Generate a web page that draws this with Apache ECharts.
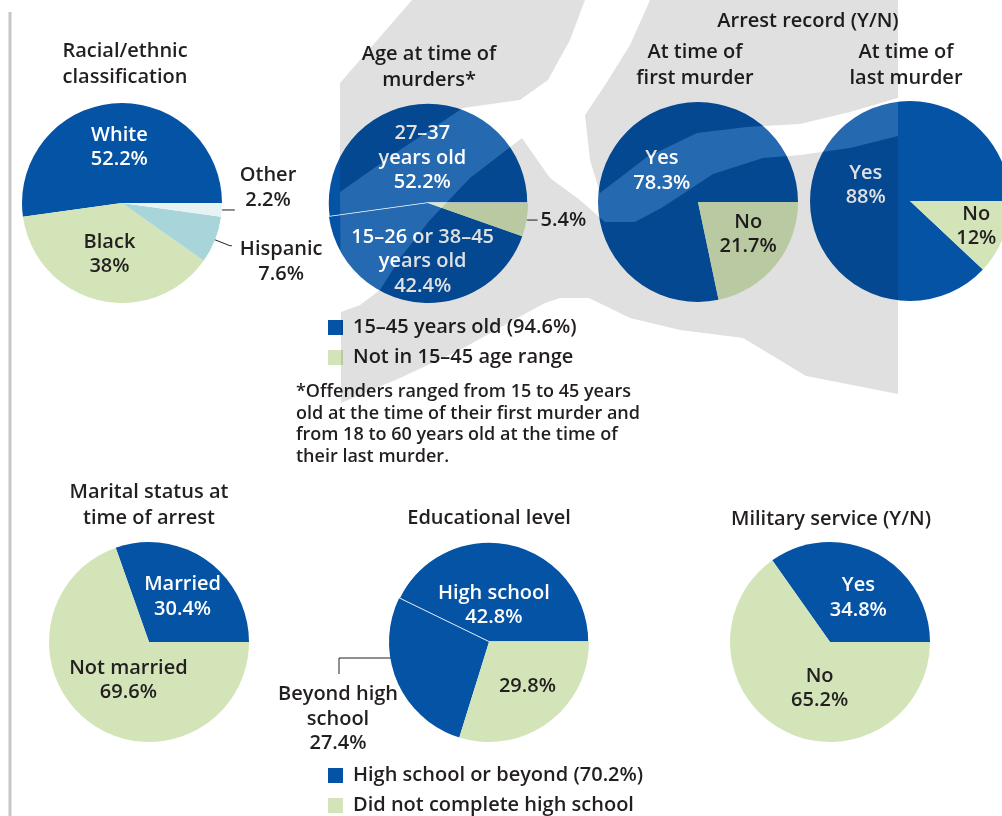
<!DOCTYPE html>
<html>
<head>
<meta charset="utf-8">
<title>Offender profile</title>
<script src="https://cdn.jsdelivr.net/npm/echarts@6/dist/echarts.min.js"></script>
<style>
  html, body { margin: 0; padding: 0; background: #fff; }
  #chart { width: 1002px; height: 816px; }
</style>
</head>
<body>
<div id="chart"></div>
<script>
// values, in percent
const raceNames = ['White', 'Black', 'Hispanic', 'Other'];
const raceValues = [52.2, 38, 7.6, 2.2];

const ageNames = ['27–37 years old', '15–26 or 38–45 years old', 'Not in 15–45 age range'];
const ageLabels = ['27–37\nyears old', '15–26 or 38–45\nyears old', ''];
const ageValues = [52.2, 42.4, 5.4];

const arrestNames = ['Yes', 'No'];
const firstArrestValues = [78.3, 21.7];
const lastArrestValues = [88, 12];

const maritalNames = ['Married', 'Not married'];
const maritalValues = [30.4, 69.6];

const eduNames = ['High school', 'Beyond high school', 'Did not complete high school'];
const eduLabels = ['High school', 'Beyond high\nschool', ''];
const eduValues = [42.8, 27.4, 29.8];

const militaryNames = ['Yes', 'No'];
const militaryValues = [34.8, 65.2];

const ageLegend = ['15–45 years old (94.6%)', 'Not in 15–45 age range'];
const eduLegend = ['High school or beyond (70.2%)', 'Did not complete high school'];

const footnote = '*Offenders ranged from 15 to 45 years\nold at the time of their first murder and\nfrom 18 to 60 years old at the time of\ntheir last murder.';

const BLUE = '#0553a5';
const GREEN = '#d3e5b8';
const HISP = '#a8d5da';
const OTHER = '#e7f3f2';
const INK = '#231f20';
const FONT = '"Open Sans", "Noto Sans", sans-serif';
const R = 100;

const chart = echarts.init(document.getElementById('chart'));

const rich = {
  lt: { color: '#fff', fontFamily: FONT, fontWeight: 600, fontSize: 20, lineHeight: 24.5, align: 'center' },
  dk: { color: INK, fontFamily: FONT, fontWeight: 600, fontSize: 20, lineHeight: 24.5, align: 'center' }
};

function labelText(words, value, tone) {
  const lines = (words ? words.split('\n') : []).concat([value + '%']);
  return lines.map(function (l) { return '{' + tone + '|' + l + '}'; }).join('\n');
}

// each pie: where it sits and how its labels are nudged
const pies = [
  { names: raceNames, words: raceNames, values: raceValues, colors: [BLUE, GREEN, HISP, OTHER],
    tones: ['lt', 'dk', 'dk', 'dk'], center: [122, 203],
    nudge: [[1, -3], [0, 0]],
    outside: { 2: { length: 16, length2: 2, dist: 8, padding: [32, 0, 0, 0] },
               3: { length: 1, length2: 12, dist: 5, padding: [0, 0, 44, 0] } } },
  { names: ageNames, words: ageLabels, values: ageValues, colors: [BLUE, BLUE, GREEN],
    tones: ['lt', 'lt', 'dk'], center: [428, 203], border: { 0: true },
    nudge: [[-2, 8], [0, 6]],
    outside: { 2: { length: 1, length2: 10, dist: 3, padding: 0 } } },
  { names: arrestNames, words: arrestNames, values: firstArrestValues, colors: [BLUE, GREEN],
    tones: ['lt', 'dk'], center: [698, 202], nudge: [[5, 2], [9, -1]] },
  { names: arrestNames, words: arrestNames, values: lastArrestValues, colors: [BLUE, GREEN],
    tones: ['lt', 'dk'], center: [910, 201], nudge: [[5, 4], [17, 6]] },
  { names: maritalNames, words: maritalNames, values: maritalValues, colors: [BLUE, GREEN],
    tones: ['lt', 'dk'], center: [149, 642], nudge: [[3, -2], [10, -5]] },
  { names: eduNames, words: eduLabels, values: eduValues, colors: [BLUE, BLUE, GREEN],
    tones: ['lt', 'dk', 'dk'], center: [489, 642], border: { 0: true },
    nudge: [[-7, 15], null, [7, 2]],
    outside: { 1: { length: 10, length2: 10, dist: 5, padding: 0 } },
    custom: { 1: function (c) {
      return {
        x: c[0] - 151, y: c[1] + 77, align: 'center', verticalAlign: 'middle',
        labelLinePoints: [[c[0] - 69, c[1] + 16], [c[0] - 150, c[1] + 16], [c[0] - 150, c[1] + 32]]
      };
    } } },
  { names: militaryNames, words: militaryNames, values: militaryValues, colors: [BLUE, GREEN],
    tones: ['lt', 'dk'], center: [830, 642], nudge: [[4, 3], [14, -1]] }
];

function pieSeries(cfg) {
  return {
    type: 'pie',
    center: cfg.center,
    radius: R,
    startAngle: 0,
    clockwise: false,
    avoidLabelOverlap: false,
    silent: true,
    label: { position: 'inside', rich: rich },
    labelLine: { show: false, lineStyle: { color: INK, width: 1 } },
    data: cfg.values.map(function (v, i) {
      const item = {
        name: cfg.names[i],
        value: v,
        itemStyle: { color: cfg.colors[i] },
        label: { formatter: labelText(cfg.words[i], v, cfg.tones[i]) }
      };
      if (cfg.border && cfg.border[i]) {
        item.itemStyle.borderColor = '#fff';
        item.itemStyle.borderWidth = 1.5;
      }
      const o = cfg.outside && cfg.outside[i];
      if (o) {
        item.label.position = 'outside';
        item.label.distanceToLabelLine = o.dist;
        item.label.padding = o.padding;
        item.labelLine = { show: true, length: o.length, length2: o.length2, lineStyle: { color: INK, width: 1 } };
      }
      return item;
    }),
    labelLayout: function (p) {
      if (cfg.custom && cfg.custom[p.dataIndex]) return cfg.custom[p.dataIndex](cfg.center);
      const n = cfg.nudge && cfg.nudge[p.dataIndex];
      if (!n) return {};
      const r = p.labelRect;
      return { x: r.x + r.width / 2 + n[0], y: r.y + r.height / 2 + n[1], align: 'center', verticalAlign: 'middle' };
    }
  };
}

const titleStyle = { fontFamily: FONT, fontWeight: 600, fontSize: 20, lineHeight: 25.5, color: INK };
const titles = [
  ['Racial/ethnic\nclassification', 125, 39],
  ['Age at time of\nmurders*', 429, 42],
  ['Arrest record (Y/N)', 808, 9],
  ['At time of\nfirst murder', 695, 40],
  ['At time of\nlast murder', 906, 40],
  ['Marital status at\ntime of arrest', 149, 480],
  ['Educational level', 489, 506],
  ['Military service (Y/N)', 831, 507]
].map(function (t) {
  return { text: t[0], left: t[1], top: t[2], textAlign: 'center', padding: 0, textStyle: titleStyle };
});

function legendBlock(items, colors, x, y0) {
  const els = [];
  items.forEach(function (txt, i) {
    const y = y0 + i * 30;
    els.push({ type: 'rect', shape: { x: x, y: y, width: 15, height: 15 }, style: { fill: colors[i] } });
    els.push({ type: 'text', x: x + 25, y: y + 7.5,
      style: { text: txt, fill: INK, fontFamily: FONT, fontWeight: 600, fontSize: 20, verticalAlign: 'middle', align: 'left' } });
  });
  return els;
}

// light watermark behind the middle of the page: gray pieces and a pale swoosh
const shadePieces = [
  [[340, 83], [412, 0], [585, 0], [570, 40], [548, 80], [520, 100], [463, 108], [400, 150], [340, 192]],
  [[650, 0], [630, 45], [605, 85], [585, 115], [590, 160], [600, 193], [647, 157], [697, 133], [747, 127],
   [800, 124], [850, 112], [898, 98], [898, 0]],
  [[341, 312], [360, 305], [380, 290], [400, 258], [430, 220], [470, 178], [522, 138], [550, 178], [580, 200],
   [605, 222], [635, 222], [663, 207], [713, 174], [763, 158], [800, 155], [850, 148], [898, 136],
   [898, 394], [806, 376], [743, 338], [680, 330], [630, 318], [589, 298], [560, 298],
   [545, 303], [510, 322], [460, 350], [400, 378], [341, 403]]
];
const swoosh = [[585, 0], [570, 40], [548, 80], [520, 100], [463, 108], [400, 150], [340, 192], [341, 312],
  [360, 305], [380, 290], [400, 258], [430, 220], [470, 178], [522, 138], [550, 178], [580, 200], [605, 222],
  [635, 222], [663, 207], [713, 174], [763, 158], [800, 155], [850, 148], [898, 136], [898, 98], [850, 112],
  [800, 124], [747, 127], [697, 133], [647, 157], [600, 193], [590, 160], [585, 115], [605, 85], [630, 45], [650, 0]];

const graphics = [
  { type: 'line', shape: { x1: 10, y1: 12, x2: 10, y2: 816 }, style: { stroke: '#c6c6c6', lineWidth: 3 } },
  { type: 'text', left: 296, top: 381,
    style: { text: footnote, fill: INK, fontFamily: FONT, fontWeight: 600, fontSize: 18, lineHeight: 21.7 } }
].concat(legendBlock(ageLegend, [BLUE, GREEN], 328, 320))
 .concat(legendBlock(eduLegend, [BLUE, GREEN], 328, 768))
 .concat(shadePieces.map(function (pts) {
   return { type: 'polygon', z: 100, silent: true, shape: { points: pts }, style: { fill: 'rgba(0,0,0,0.12)' } };
 }))
 .concat([{ type: 'polygon', z: 100, silent: true, shape: { points: swoosh }, style: { fill: 'rgba(255,255,255,0.13)' } }]);

chart.setOption({
  animation: false,
  backgroundColor: '#fff',
  title: titles,
  graphic: graphics,
  series: pies.map(pieSeries)
});
</script>
</body>
</html>
